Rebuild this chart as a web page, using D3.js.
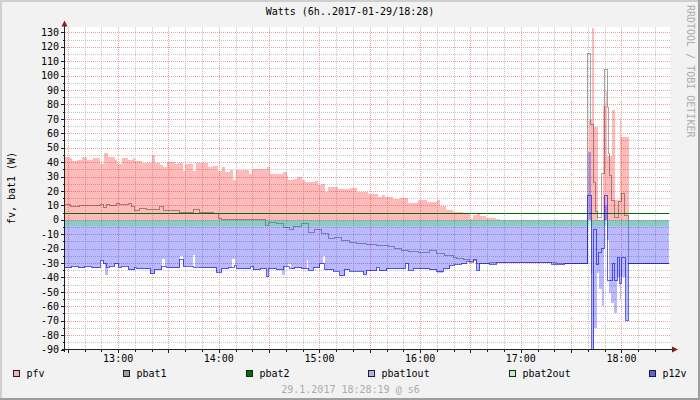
<!DOCTYPE html>
<html>
<head>
<meta charset="utf-8">
<script src="https://cdn.jsdelivr.net/npm/d3@7"></script>
<style>
  body { margin: 0; background: #fff; }
  svg { display: block; }
  text { font-family: "DejaVu Sans Mono", monospace; font-size: 10px; }
</style>
</head>
<body>
<div id="chart"></div>
<script>
// Data: [minutes since 12:00, watts], step points (value holds until next point)
var pfv = [[28.3,43.8],[31.3,43],[32.3,41],[35.6,41.7],[38.3,43.8],[41.2,41.5],[45,42.7],[49.2,38.8],[51.7,46],[54.1,43.4],
  [58.1,41.5],[59.5,38.8],[62.1,42.7],[66,41.7],[69,42.7],[70,41],[74,39.5],[80,45.2],[81.9,39.5],[84.9,38.3],[86.9,36.4],
  [88.9,39.9],[93.8,38.8],[95.8,39.5],[98.4,33.7],[99.8,38.8],[104.7,33.7],[106.4,39.5],[113.7,36.4],[116.7,37],[119.6,33.7],
  [121.7,36.4],[123.6,33],[126.6,34.3],[128.6,27.9],[130.2,34.8],[138.1,32],[139.5,35.3],[148.5,36.4],[150.4,31.8],[158.4,33],
  [160.4,30.3],[161.3,27.9],[164.3,28.6],[166.3,29.9],[169.3,27.9],[171.3,26],[177.3,26.8],[179.2,24.4],[181.2,24.7],[183.2,19.1],
  [185.2,23],[191.1,21.5],[198.1,21.7],[202.1,19.1],[209,18],[215,15.7],[217,17.4],[219,16.1],[223.9,14.5],[227.9,15],
  [232.8,11.5],[238.8,13.4],[243.8,12.2],[249.8,13.8],[251.7,9.2],[255.7,6.9],[259.7,5.3],[265.6,4.6],[269.6,0.7],[271.6,3],
  [273.6,4.2],[275.6,2.3],[279.5,1.4],[285.5,0.7],[287.4,0],
  [340.5,69],[342.5,133],[343.8,64],[345.8,0],[349.1,79],[350.5,89.5],[351.5,44.5],[354.4,76],[356,14],[358.9,70.6],
  [359.9,57.7],[364.3,0],[388.3,0]];

var pbat1 = [[28.3,10.4],[31.3,9.2],[37.2,9.7],[49.2,10.6],[51.1,8.6],[53.1,10.6],[55.1,9.7],[59.1,11],[61.1,10.6],[66,11],
  [68,9.2],[70,6.4],[73,7.6],[77,6.9],[84.9,9.2],[86.9,6.4],[96.8,5.3],[104.7,6.9],[108.7,5.3],[116.7,4.2],[119.6,0.7],
  [121.7,0],[128.6,0.4],[140.6,0],[144.6,0.2],[147.6,-3.9],[149.6,-1.9],[154.5,-2.8],[158.4,-5.1],[162.4,-6.9],[164.3,-4.6],
  [169.3,-2.4],[173.3,-8.6],[177.3,-6.9],[181.2,-9.7],[185.2,-13.2],[189.2,-12],[193.2,-14.3],[198.1,-15.5],[202.1,-16.6],
  [208.1,-17.1],[214,-17.8],[220.9,-18.5],[224.9,-20],[228.9,-21.3],[232.8,-21.7],[238.8,-22.9],[245.8,-21.3],[249.8,-23.5],
  [254.7,-24.7],[259.7,-25.9],[261.7,-27],[265.6,-27.7],[269.6,-29.4],[271.6,-28],[273.6,-30],[281.5,-29.6],[321.3,-30.3],
  [339.7,115],[341.7,66],[343.1,26],[344.5,6],[345.7,1.8],[348.1,32],[349.6,104.5],[351.4,78],[352.4,46],[353,30.7],
  [354,13.4],[356,1.8],[358,13],[360,18],[362,3],[363.9,-30.3],[388.3,-30.3]];

var pbat2 = [[28.3,4.3],[388.3,4.3]];

var pbat1out = [[28.3,-33.2],[32.3,-32.3],[36.2,-33.2],[40.2,-32.3],[44.2,-33.2],[49.2,-28.2],[51.1,-30.5],[52.1,-38.6],
  [54.1,-33],[55.1,-32.3],[58.1,-30.5],[60.1,-33],[62.1,-32.3],[66,-34.6],[70,-33],[71,-33.9],[79,-37.4],[81.9,-34.6],
  [85.9,-27],[87.9,-32.3],[88.9,-33.2],[96.8,-25],[98.8,-32.3],[104.7,-24.7],[105.7,-32.8],[108.7,-33.2],[118.6,-36.3],
  [121.7,-34],[125.6,-33.2],[127.6,-27],[129.6,-31.6],[130.6,-34],[138.7,-32.3],[140.6,-34.6],[144.6,-34],[148.6,-39.7],
  [149.6,-34],[154.5,-34.6],[157.4,-38.6],[159.4,-32.3],[161.3,-31],[163.3,-34],[165.3,-33.2],[169.3,-34],[172.3,-28],
  [173.3,-35],[176.2,-33.2],[180.2,-30.5],[182.2,-25],[183.2,-34.6],[188.1,-35.6],[192.1,-39],[195,-34.6],[198.1,-35.8],
  [206,-37.8],[208.1,-35.5],[214,-32.8],[216,-35.5],[220,-33.9],[231,-30.5],[233,-35.1],[236,-33.9],[245.8,-34.6],
  [249.8,-36.7],[253.7,-33.9],[257.7,-31.6],[260.7,-31],[264.6,-30.5],[267.6,-28.9],[271.6,-27.7],[273.6,-35],[275.6,-30],
  [281.5,-31],[285.5,-29.4],[318.3,-31],[326.3,-30.5],
  [340,46.8],[341.9,-37],[342.5,-92],[343.5,-75],[345.3,-37],[346.5,-48],[348.1,-60],[349.6,10],[351.4,-14],[352.4,-51],
  [354,-58],[355.6,-65],[357.6,-40],[359,-56],[360,-40],[362.4,-69.7],[363.9,-30.5],[388.3,-30.5]];

var pbat2out = [[28.3,-4.3],[388.3,-4.3]];

var p12v = [[28.3,-33.2],[32.3,-32.3],[36.2,-33.2],[40.2,-32.3],[44.2,-33.2],[49.2,-28.2],[51.1,-30.5],[53.1,-33],[55.1,-32.3],
  [58.1,-30.5],[60.1,-33],[62.1,-32.3],[66,-34.6],[70,-33],[71,-33.9],[79,-37.4],[81.9,-34.6],[85.9,-32.3],[88.9,-33.2],
  [96.8,-27.7],[98.8,-32.3],[104.7,-32.8],[108.7,-33.2],[118.6,-36.3],[121.7,-34],[125.6,-33.2],[129.6,-31.6],[130.6,-34],
  [138.7,-32.3],[140.6,-34.6],[144.6,-34],[148.6,-39.7],[149.6,-34],[154.5,-34.6],[158.4,-32.3],[162.4,-34],[165.3,-33.2],
  [169.3,-34],[173.3,-35],[176.2,-33.2],[180.2,-30.5],[183.2,-34.6],[188.1,-35.6],[192.1,-38.6],[195,-34.6],[198.1,-35.8],
  [206,-37.8],[208.1,-35.5],[214,-32.8],[216,-35.5],[220,-33.9],[231,-30.5],[233,-35.1],[236,-33.9],[245.8,-34.6],
  [249.8,-36],[253.7,-33.9],[257.7,-31.6],[260.7,-31],[264.6,-30.5],[267.6,-28.9],[271.6,-27.7],[273.6,-35],[275.6,-30],
  [281.5,-31],[285.5,-29.4],[318.3,-31],[326.3,-30.5],
  [340,16.8],[341.9,-92],[343.5,-7],[345.3,-31],[346.5,-22.4],[348.1,-20],[349.6,17],[351.4,-42],[354.4,-30],[355.6,-42],
  [357.6,-26],[359,-44],[360,-26],[362.4,-69.7],[363.9,-30.5],[388.3,-30.5]];

var legendNames = ["pfv", "pbat1", "pbat2", "pbat1out", "pbat2out", "p12v"];
var yTickValues = [-90,-80,-70,-60,-50,-40,-30,-20,-10,0,10,20,30,40,50,60,70,80,90,100,110,120,130];
var hourLabels = ["13:00", "14:00", "15:00", "16:00", "17:00", "18:00"];
var titleText = "Watts (6h..2017-01-29/18:28)";
var footerText = "29.1.2017 18:28:19 @ s6";

// canvas setup
var svgWidth = 700, svgHeight = 400;
var plot = { left: 65, right: 670, top: 27, bottom: 349.5 };

var day = new Date(2017, 0, 29, 12, 0, 0);
function toDate(m) { return new Date(day.getTime() + m * 60000); }
var tStart = toDate(28.32), tEnd = toDate(388.32);

var x = d3.scaleTime().domain([tStart, tEnd]).range([65, 669]);
var y = d3.scaleLinear().domain([-90, 133.7]).range([plot.bottom, plot.top]);

var svg = d3.select("#chart").append("svg")
  .attr("width", svgWidth)
  .attr("height", svgHeight);

// background and shading
svg.append("rect").attr("width", svgWidth).attr("height", svgHeight).attr("fill", "#f2f2f2");
svg.append("path").attr("d", "M0,0H700V2H2V400H0Z").attr("fill", "#cfcfcf");
svg.append("path").attr("d", "M700,0V400H0V398H698V0Z").attr("fill", "#9e9e9e");

svg.append("rect")
  .attr("x", plot.left).attr("y", plot.top)
  .attr("width", plot.right - plot.left).attr("height", plot.bottom - plot.top)
  .attr("fill", "#fff");

svg.append("clipPath").attr("id", "clip")
  .append("rect")
  .attr("x", plot.left).attr("y", plot.top - 1)
  .attr("width", plot.right - plot.left).attr("height", plot.bottom - plot.top + 1);

var px = v => Math.round(v) + 0.5;

// grid
var gridGroup = svg.append("g").attr("shape-rendering", "crispEdges");
var minorY = d3.range(-85, 134, 5).filter(v => v % 10 !== 0);
var majorY = yTickValues.filter(v => v > -90);
var minorColor = "#c6c6c6", majorColor = "#eaa2a2";

gridGroup.selectAll("line.minory").data(minorY).enter().append("line")
  .attr("x1", plot.left).attr("x2", plot.right)
  .attr("y1", d => px(y(d))).attr("y2", d => px(y(d)))
  .attr("stroke", minorColor).attr("stroke-dasharray", "1,1");

var minuteTicks = d3.timeMinute.every(10).range(tStart, tEnd);
var minorX = minuteTicks.filter(d => d.getMinutes() % 30 !== 0);
var majorX = minuteTicks.filter(d => d.getMinutes() % 30 === 0);

gridGroup.selectAll("line.minorx").data(minorX).enter().append("line")
  .attr("x1", d => px(x(d))).attr("x2", d => px(x(d)))
  .attr("y1", plot.top).attr("y2", plot.bottom)
  .attr("stroke", minorColor).attr("stroke-dasharray", "1,1");

gridGroup.selectAll("line.majory").data(majorY).enter().append("line")
  .attr("x1", plot.left).attr("x2", plot.right)
  .attr("y1", d => px(y(d))).attr("y2", d => px(y(d)))
  .attr("stroke", majorColor).attr("stroke-dasharray", "1,1");

gridGroup.selectAll("line.majorx").data(majorX).enter().append("line")
  .attr("x1", d => px(x(d))).attr("x2", d => px(x(d)))
  .attr("y1", plot.top).attr("y2", plot.bottom + 3)
  .attr("stroke", majorColor).attr("stroke-dasharray", "1,1");

// series
var graph = svg.append("g").attr("clip-path", "url(#clip)").attr("shape-rendering", "crispEdges");

function areaPath(data) {
  return d3.area().curve(d3.curveStepAfter)
    .x(d => x(toDate(d[0])))
    .y0(y(0))
    .y1(d => y(d[1]))(data);
}
function linePath(data) {
  return d3.line().curve(d3.curveStepAfter)
    .x(d => x(toDate(d[0])))
    .y(d => y(d[1]))(data);
}

var styles = {
  pfv:      { fill: "#ff0000", opacity: 0.27 },
  pbat1:    { stroke: "#000000", opacity: 0.35 },
  pbat2:    { stroke: "#007000", opacity: 1 },
  pbat1out: { fill: "#0000ff", opacity: 0.27 },
  pbat2out: { fill: "#00ff00", opacity: 0.24 },
  p12v:     { stroke: "#0000dd", opacity: 0.6 }
};

graph.append("path").attr("d", areaPath(pfv))
  .attr("fill", styles.pfv.fill).attr("fill-opacity", styles.pfv.opacity);
graph.append("path").attr("d", linePath(pbat1))
  .attr("fill", "none").attr("stroke", styles.pbat1.stroke).attr("stroke-opacity", styles.pbat1.opacity);
graph.append("path").attr("d", linePath(pbat2))
  .attr("fill", "none").attr("stroke", styles.pbat2.stroke);
graph.append("path").attr("d", areaPath(pbat1out))
  .attr("fill", styles.pbat1out.fill).attr("fill-opacity", styles.pbat1out.opacity);
graph.append("path").attr("d", areaPath(pbat2out))
  .attr("fill", styles.pbat2out.fill).attr("fill-opacity", styles.pbat2out.opacity);
graph.append("path").attr("d", linePath(p12v))
  .attr("fill", "none").attr("stroke", styles.p12v.stroke).attr("stroke-opacity", styles.p12v.opacity);

// axes
var axisColor = "#1f1f1f";
var axes = svg.append("g").attr("shape-rendering", "crispEdges");
axes.append("line").attr("x1", 64.5).attr("x2", 64.5).attr("y1", 352).attr("y2", 24).attr("stroke", axisColor);
axes.append("line").attr("x1", 62).attr("x2", 673).attr("y1", 349.5).attr("y2", 349.5).attr("stroke", axisColor);

axes.selectAll("line.yt").data(yTickValues).enter().append("line")
  .attr("x1", 61).attr("x2", 64)
  .attr("y1", d => px(y(d))).attr("y2", d => px(y(d)))
  .attr("stroke", axisColor);
axes.selectAll("line.ytm").data(minorY).enter().append("line")
  .attr("x1", 62.5).attr("x2", 64)
  .attr("y1", d => px(y(d))).attr("y2", d => px(y(d)))
  .attr("stroke", axisColor);
axes.selectAll("line.xt").data(majorX).enter().append("line")
  .attr("x1", d => px(x(d))).attr("x2", d => px(x(d)))
  .attr("y1", 350).attr("y2", 353)
  .attr("stroke", axisColor);
axes.selectAll("line.xtm").data(minorX).enter().append("line")
  .attr("x1", d => px(x(d))).attr("x2", d => px(x(d)))
  .attr("y1", 350).attr("y2", 351.5)
  .attr("stroke", axisColor);

// arrows
svg.append("path").attr("d", "M61.5,26.5L67.5,26.5L64.5,20.5Z").attr("fill", "#801f1f");
svg.append("path").attr("d", "M672,346.5L672,352.5L678,349.5Z").attr("fill", "#801f1f");

// tick labels
svg.selectAll("text.ylab").data(yTickValues).enter().append("text")
  .attr("x", 59).attr("y", d => y(d) + 3.7)
  .attr("text-anchor", "end")
  .text(d => d);

var hourDates = hourLabels.map(function(s) {
  var p = s.split(":");
  return new Date(2017, 0, 29, +p[0], +p[1]);
});
svg.selectAll("text.xlab").data(hourLabels).enter().append("text")
  .attr("x", (d, i) => x(hourDates[i]))
  .attr("y", 362)
  .attr("text-anchor", "middle")
  .text(d => d);

// titles
svg.append("text").attr("x", 350).attr("y", 15).attr("text-anchor", "middle").text(titleText);
svg.append("text")
  .attr("transform", "translate(14.5,188) rotate(-90)")
  .attr("text-anchor", "middle")
  .text("fv, bat1 (W)");
svg.append("text")
  .attr("transform", "translate(687,5) rotate(90)")
  .attr("fill", "#ababab")
  .text("RRDTOOL / TOBI OETIKER");
svg.append("text").attr("x", 350.5).attr("y", 393).attr("text-anchor", "middle")
  .attr("fill", "#ababab").text(footerText);

// legend, justified across the width like rrdtool does
var legend = svg.append("g");
var items = legendNames.map(function(name) {
  var g = legend.append("g");
  var st = styles[name];
  g.append("rect").attr("x", 0.5).attr("y", 370.5).attr("width", 6).attr("height", 6)
    .attr("fill", st.fill || st.stroke)
    .attr("fill-opacity", name === "pbat2" ? 1 : st.opacity)
    .attr("stroke", "#1f1f1f").attr("shape-rendering", "crispEdges");
  var t = g.append("text").attr("x", 13.5).attr("y", 377).text(name);
  return { g: g, w: 13.5 + t.node().getComputedTextLength() };
});
var legLeft = 13, legRight = 687;
var totalW = d3.sum(items, d => d.w);
var gap = (legRight - legLeft - totalW) / (items.length - 1);
var cx = legLeft;
items.forEach(function(it) {
  it.g.attr("transform", "translate(" + Math.round(cx) + ",0)");
  cx += it.w + gap;
});
</script>
</body>
</html>
